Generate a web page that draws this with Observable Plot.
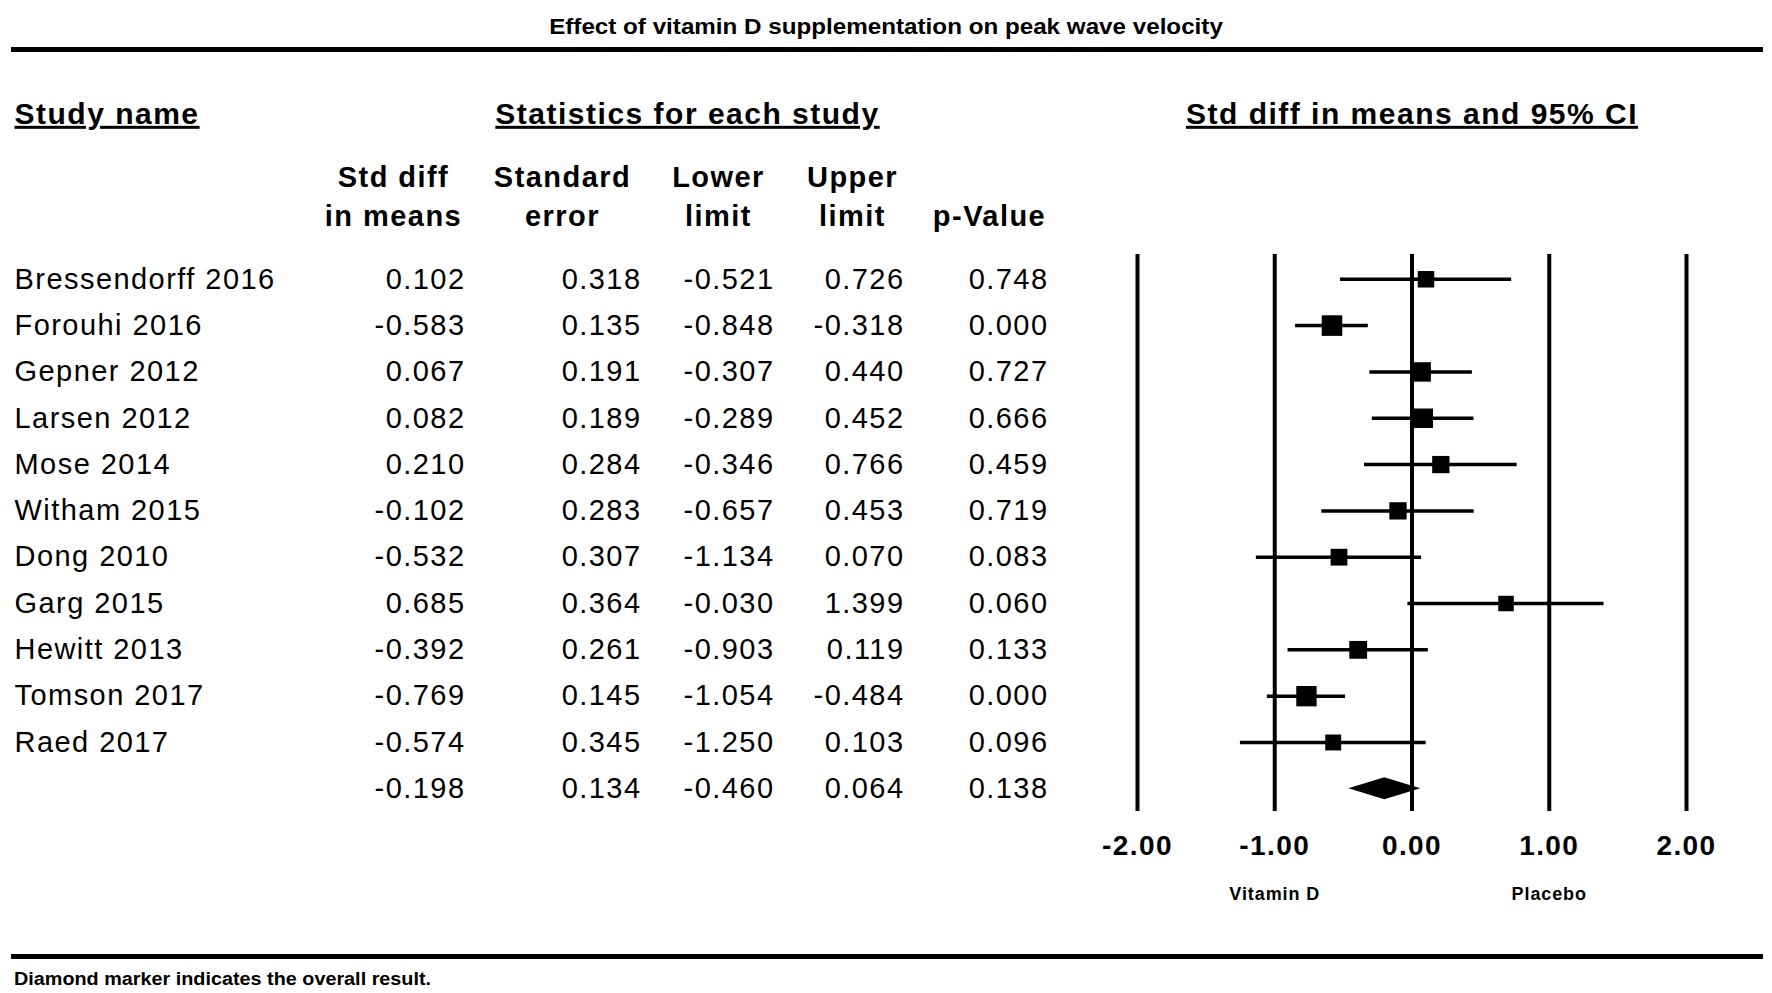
<!DOCTYPE html>
<html><head><meta charset="utf-8">
<script src="https://cdn.jsdelivr.net/npm/d3@7"></script>
<script src="https://cdn.jsdelivr.net/npm/@observablehq/plot@0.6"></script>
<style>
html,body{margin:0;padding:0;background:#fff;}
body{width:1772px;height:993px;position:relative;overflow:hidden;font-family:"Liberation Sans",Arial,sans-serif;color:#000;}
#title{position:absolute;left:0;width:1772px;top:15px;text-align:center;font-weight:bold;font-size:22px;line-height:24px;transform:scaleX(1.1);white-space:nowrap;}
.bar{position:absolute;left:11px;width:1752px;height:5px;background:#000;}
#caption{position:absolute;left:14px;top:968px;font-weight:bold;font-size:18px;line-height:22px;transform-origin:left center;transform:scaleX(1.1);white-space:nowrap;}
#chart{position:absolute;left:0;top:58px;}
#chart svg text{letter-spacing:0.05em;}
</style></head><body>
<div id="title">Effect of vitamin D supplementation on peak wave velocity</div>
<div class="bar" style="top:47px"></div>
<div id="chart"></div>
<div class="bar" style="top:954px"></div>
<div id="caption">Diamond marker indicates the overall result.</div>
<script>
// ---- data ----
const studies = ["Bressendorff 2016","Forouhi 2016","Gepner 2012","Larsen 2012","Mose 2014","Witham 2015","Dong 2010","Garg 2015","Hewitt 2013","Tomson 2017","Raed 2017"];
const stdDiff = [0.102,-0.583,0.067,0.082,0.210,-0.102,-0.532,0.685,-0.392,-0.769,-0.574];
const stdErr  = [0.318,0.135,0.191,0.189,0.284,0.283,0.307,0.364,0.261,0.145,0.345];
const lowerLimit = [-0.521,-0.848,-0.307,-0.289,-0.346,-0.657,-1.134,-0.030,-0.903,-1.054,-1.250];
const upperLimit = [0.726,-0.318,0.440,0.452,0.766,0.453,0.070,1.399,0.119,-0.484,0.103];
const pValue = [0.748,0.000,0.727,0.666,0.459,0.719,0.083,0.060,0.133,0.000,0.096];
const overallStdDiff = -0.198, overallStdErr = 0.134, overallLower = -0.460, overallUpper = 0.064, overallP = 0.138;
const xTicks = [-2,-1,0,1,2];
const headerLine1 = ["Std diff","Standard","Lower","Upper",""];
const headerLine2 = ["in means","error","limit","limit","p-Value"];
const sideLabels = ["Vitamin D","Placebo"];
const sideLabelX = [-1,1];

// random-effects weights (DerSimonian-Laird) derived from the table
const wF = stdErr.map(s => 1/(s*s));
const sumW = d3.sum(wF);
const mF = d3.sum(stdDiff, (d,i) => wF[i]*d) / sumW;
const Q = d3.sum(stdDiff, (d,i) => wF[i]*(d-mF)**2);
const C = sumW - d3.sum(wF, w => w*w)/sumW;
const tau2 = Math.max(0, (Q - (studies.length-1))/C);
const wR = stdErr.map(s => 1/(s*s + tau2));

const rows = studies.map((name,i) => ({i, name, d:stdDiff[i], se:stdErr[i], lo:lowerLimit[i], hi:upperLimit[i], p:pValue[i], w:wR[i]}));
const summaryRow = {i: studies.length, name:"", d:overallStdDiff, se:overallStdErr, lo:overallLower, hi:overallUpper, p:overallP};
const allRows = [...rows, summaryRow];
const dh = 0.237; // diamond half height in row units
const diamond = [
  {y: summaryRow.i - dh, x1: summaryRow.d, x2: summaryRow.d},
  {y: summaryRow.i, x1: summaryRow.lo, x2: summaryRow.hi},
  {y: summaryRow.i + dh, x1: summaryRow.d, x2: summaryRow.d}
];

// ---- layout ----
const FL = 1137; // frame left
const fs = 29;
const numCols = [
  {key:"d", right:465}, {key:"se", right:641}, {key:"lo", right:774}, {key:"hi", right:904}, {key:"p", right:1048}
];
const headerCenters = [393, 562, 718, 852, 989];

const marks = [
  Plot.ruleX(xTicks, {x: d => d, strokeWidth: 4, stroke: "black"}),
  Plot.ruleY(rows, {y: "i", x1: "lo", x2: "hi", strokeWidth: 3.5, stroke: "black"}),
  Plot.dot(rows, {x: "d", y: "i", r: "w", symbol: "square", fill: "black", stroke: null}),
  Plot.areaX(diamond, {y: "y", x1: "x1", x2: "x2", fill: "black"}),
  Plot.axisX({ticks: xTicks, tickFormat: d => d.toFixed(2), tickSize: 0, tickPadding: 24, fontSize: 28, fontWeight: "bold", label: null}),
  Plot.text(sideLabels, {x: (d,i) => sideLabelX[i], text: d => d, frameAnchor: "bottom", dy: 88, fontSize: 18, fontWeight: "bold"}),
  Plot.text(allRows, {y: "i", text: "name", frameAnchor: "left", textAnchor: "start", dx: 14 - FL, fontSize: fs}),
  ...numCols.map(c => Plot.text(allRows, {y: "i", text: d => d[c.key].toFixed(3), frameAnchor: "left", textAnchor: "end", dx: c.right - FL, fontSize: fs})),
  ...headerCenters.map((cx,k) => Plot.text([headerLine1[k]], {text: d => d, frameAnchor: "top-left", textAnchor: "middle", dx: cx - FL, dy: -88, fontSize: 29, fontWeight: "bold"})),
  ...headerCenters.map((cx,k) => Plot.text([headerLine2[k]], {text: d => d, frameAnchor: "top-left", textAnchor: "middle", dx: cx - FL, dy: -49, fontSize: 29, fontWeight: "bold"})),
  Plot.text(["Study name"], {text: d => d, frameAnchor: "top-left", textAnchor: "start", dx: 14 - FL, dy: -152, fontSize: 30, fontWeight: "bold"}),
  Plot.text(["Statistics for each study"], {text: d => d, frameAnchor: "top-left", textAnchor: "middle", dx: 687 - FL, dy: -152, fontSize: 30, fontWeight: "bold"}),
  Plot.text(["Std diff in means and 95% CI"], {x: () => 0, text: d => d, frameAnchor: "top", textAnchor: "middle", dy: -152, fontSize: 30, fontWeight: "bold"})
];

const chart = Plot.plot({
  width: 1772,
  height: 890,
  marginLeft: FL,
  marginRight: 86,
  marginTop: 196,
  marginBottom: 137,
  x: {domain: [-2, 2], label: null, axis: null},
  y: {domain: [11.49, -0.535], axis: null, label: null},
  r: {type: "sqrt", domain: [0, d3.max(wR)], range: [0, 11.6]},
  style: {fontFamily: "'Liberation Sans', Arial, sans-serif", background: "white", color: "black", overflow: "visible"},
  marks
});

// underline the section titles
const underlined = new Set(["Study name","Statistics for each study","Std diff in means and 95% CI"]);
chart.querySelectorAll("text").forEach(t => {
  if (underlined.has(t.textContent)) {
    t.style.textDecoration = "underline";
    t.style.textUnderlineOffset = "8px";
    t.style.textDecorationThickness = "2px";
  }
});
document.getElementById("chart").appendChild(chart);
</script>
</body></html>
